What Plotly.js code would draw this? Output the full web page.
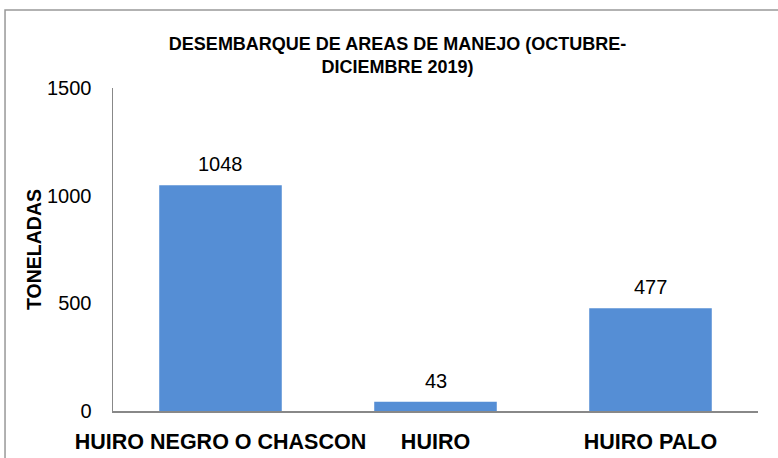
<!DOCTYPE html>
<html>
<head>
<meta charset="utf-8">
<script src="https://cdn.plot.ly/plotly-3.0.1.min.js"></script>
<style>html,body{margin:0;padding:0;background:#fff;}#chart{width:778px;height:458px;}</style>
</head>
<body>
<div id="chart"></div>
<script>
const categories = ["HUIRO NEGRO O CHASCON", "HUIRO", "HUIRO PALO"];
const toneladas = [1048, 43, 477];
const yTicks = [0, 500, 1000, 1500];

const fam = '"Liberation Sans", Arial, sans-serif';

const trace = {
  type: 'bar',
  x: categories,
  y: toneladas,
  marker: {color: '#558ED5'},
  width: 0.57,
  hoverinfo: 'none'
};

const labels = categories.map((c, i) => ({
  x: c, y: toneladas[i], xref: 'x', yref: 'y',
  text: String(toneladas[i]), showarrow: false,
  yanchor: 'bottom', yshift: 8,
  font: {family: fam, size: 20, color: '#000'}
}));

const layout = {
  width: 778, height: 458,
  margin: {l: 113, r: 20, t: 88, b: 47},
  paper_bgcolor: '#fff', plot_bgcolor: '#fff',
  showlegend: false,
  title: {
    text: '<b>DESEMBARQUE DE AREAS DE MANEJO (OCTUBRE-<br>DICIEMBRE 2019)</b>',
    font: {family: fam, size: 18, color: '#000'},
    x: 0.511, xanchor: 'center', y: 0.891, yanchor: 'middle'
  },
  xaxis: {
    showline: true, linecolor: '#888', linewidth: 1.5,
    showgrid: false, zeroline: false, ticks: '',
    ticklabelstandoff: 11,
    tickfont: {family: fam, size: 21.5, color: '#000', weight: 'bold'}
  },
  yaxis: {
    range: [0, 1500], tickvals: yTicks, ticktext: yTicks.map(String),
    showline: true, linecolor: '#888', linewidth: 1.5,
    showgrid: false, zeroline: false, ticks: '',
    ticklabelstandoff: 16,
    tickfont: {family: fam, size: 20, color: '#000'},
    title: {text: '<b>TONELADAS</b>', font: {family: fam, size: 19.5, color: '#000'}, standoff: 0}
  },
  annotations: labels,
  shapes: [{
    type: 'rect', xref: 'paper', yref: 'paper',
    x0: -0.1674, x1: 1.1, y0: -0.3, y1: 1.2415,
    line: {color: '#999', width: 1.5}, fillcolor: 'rgba(0,0,0,0)', layer: 'below'
  }]
};

Plotly.newPlot('chart', [trace], layout, {staticPlot: true, displayModeBar: false});
</script>
</body>
</html>
